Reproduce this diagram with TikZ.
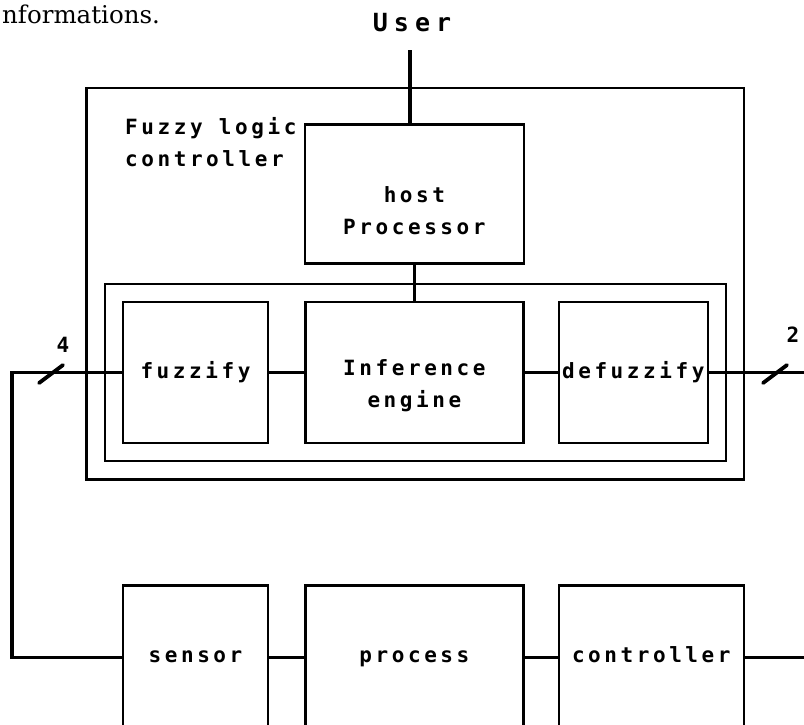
\documentclass[tikz,border=0pt]{standalone}
\usepackage{fontspec}
\newfontfamily\plotfont[LetterSpace=17]{DejaVu Sans Mono}
\newfontfamily\userfont[LetterSpace=24]{DejaVu Sans Mono}
\newfontfamily\pagefont{DejaVu Serif}
\usetikzlibrary{positioning,fit}

\tikzset{
  unit/.style={draw, line width=2.4pt, inner sep=0pt, minimum height=141pt,
    font=\plotfont\bfseries\fontsize{21}{32}\selectfont,
    text height=15pt, text depth=4pt},
  unittext/.style={inner sep=0pt, align=center, anchor=north,
    font=\plotfont\bfseries\fontsize{21}{32}\selectfont},
  frame/.style={draw, line width=2.4pt, inner sep=17pt},
  wire/.style={line width=3.2pt},
  busmark/.style={line width=3.8pt, line cap=round},
  buslabel/.style={inner sep=0pt, font=\plotfont\bfseries\fontsize{21}{24}\selectfont},
}

\begin{document}
\begin{tikzpicture}[x=1pt, y=-1pt, node distance=35pt]
  \useasboundingbox (0,0) rectangle (804,724);

  % running text above the figure
  \node[anchor=base west, inner sep=0pt, font=\pagefont\fontsize{24.5}{30}\selectfont] (caption) at (2,23) {nformations.};
  \node[inner sep=0pt, font=\userfont\bfseries\fontsize{25}{30}\selectfont] (user) at (412,23) {User};

  % fuzzy logic controller
  \node[unit, minimum width=145pt] (fuzzify) at (195.5,372.5) {fuzzify};
  \node[unit, minimum width=218pt, right=of fuzzify] (inference) {};
  \node[unit, minimum width=149pt, right=33pt of inference] (defuzzify) {defuzzify};
  \node[unit, minimum width=219pt, minimum height=139pt, above=36pt of inference] (host) {};
  \node[unittext, below=59pt of inference.north] (inftext) {Inference\\engine};
  \node[unittext, below=63pt of host.north] (hosttext) {host\\Processor};
  \node[unittext, align=left, anchor=north west] (title) at (125,117) {Fuzzy logic\\controller};

  \coordinate (frametop) at (414,105);
  \node[frame, fit=(fuzzify)(inference)(defuzzify)] (pipeline) {};
  \node[frame, fit=(pipeline)(frametop)] (flc) {};

  % plant
  \node[unit, minimum width=145pt, minimum height=144pt, below=140pt of fuzzify] (sensor) {sensor};
  \node[unit, minimum width=218pt, minimum height=144pt, right=of sensor] (process) {process};
  \node[unit, minimum width=185pt, minimum height=144pt, right=33pt of process] (controller) {controller};

  % connections
  \coordinate (userend) at (410,50);
  \coordinate (loopL) at (12,500);
  \coordinate (edgeR) at (806,0);
  \draw[wire] (userend) -- (userend |- host.north);
  \draw[wire] (host) -- (inference);
  \draw[wire] (fuzzify) -- (inference);
  \draw[wire] (inference) -- (defuzzify);
  \draw[wire] (defuzzify.east) -- (defuzzify.east -| edgeR);
  \draw[wire] (fuzzify.west) -| (loopL) |- (sensor.west);
  \draw[wire] (sensor) -- (process);
  \draw[wire] (process) -- (controller);
  \draw[wire] (controller.east) -- (controller.east -| edgeR);

  % bus widths
  \coordinate (busL) at (51,373);
  \coordinate (busR) at (775,373);
  \draw[busmark] ([shift={(-12,10)}]busL) -- ([shift={(12,-8)}]busL);
  \draw[busmark] ([shift={(-12,10)}]busR) -- ([shift={(12,-8)}]busR);
  \node[buslabel] (widthL) at (63,345) {4};
  \node[buslabel] (widthR) at (793,335) {2};
\end{tikzpicture}
\end{document}
